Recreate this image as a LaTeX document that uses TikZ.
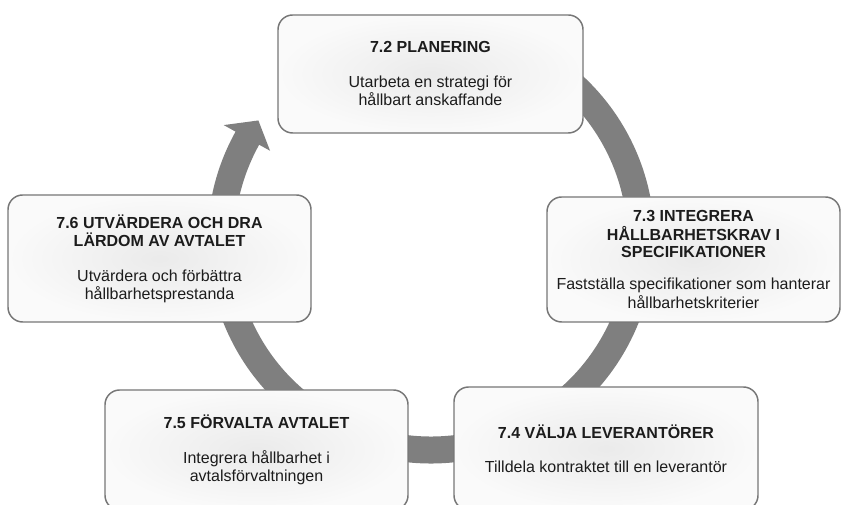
\documentclass[tikz,border=0pt]{standalone}
\usepackage{fontspec}
\setmainfont{Liberation Sans}
\definecolor{ringgray}{RGB}{127,127,127}
\definecolor{boxline}{RGB}{118,118,118}
\definecolor{txt}{RGB}{28,28,28}
\begin{document}
\begin{tikzpicture}[x=0.75pt,y=0.75pt,
  stage/.style={draw=boxline, line width=1.1pt, rounded corners=11pt,
    inner color=black!8, outer color=black!2, align=center, inner sep=0pt,
    font=\fontsize{12}{13.5}\selectfont, text=txt},
  ringband/.style={draw=ringgray, line width=20.25pt},
  ringhead/.style={fill=ringgray}
  ]
\useasboundingbox (0,0) rectangle (841,505);
\clip (0,0) rectangle (841,505);
\coordinate (c) at (431,265);
% cycle ring (drawn behind the boxes)
\draw[ringband] ([shift={(150.5:157.5pt)}]c) arc[start angle=150.5, end angle=440, radius=157.5pt];
\fill[ringhead] ([shift={(145.3:157.5pt)}]c) -- ([shift={(151:177.75pt)}]c) -- ([shift={(151:138pt)}]c) -- cycle;
% stages
\node[stage, minimum width=228.75pt, minimum height=88.5pt] (p72) at (430.5,431)
  {\textbf{7.2 PLANERING}\\[12.75pt]Utarbeta en strategi för\\hållbart anskaffande};
\node[stage, minimum width=219.75pt, minimum height=93.75pt] (p73) at (693.5,245.5)
  {\textbf{7.3 INTEGRERA}\\\textbf{HÅLLBARHETSKRAV I}\\\textbf{SPECIFIKATIONER}\\[10.5pt]Fastställa specifikationer som hanterar\\hållbarhetskriterier};
\node[stage, minimum width=228pt, minimum height=92.25pt] (p74) at (606,56.5)
  {\textbf{7.4 VÄLJA LEVERANTÖRER}\\[12pt]Tilldela kontraktet till en leverantör};
\node[stage, minimum width=227.25pt, minimum height=90pt] (p75) at (256.5,55)
  {\textbf{7.5 FÖRVALTA AVTALET}\\[12.75pt]Integrera hållbarhet i\\avtalsförvaltningen};
\node[stage, minimum width=227.25pt, minimum height=95.25pt] (p76) at (159.5,246.5)
  {\textbf{7.6 UTVÄRDERA OCH DRA}\\\textbf{LÄRDOM AV AVTALET}\\[12.75pt]Utvärdera och förbättra\\hållbarhetsprestanda};
\end{tikzpicture}
\end{document}
